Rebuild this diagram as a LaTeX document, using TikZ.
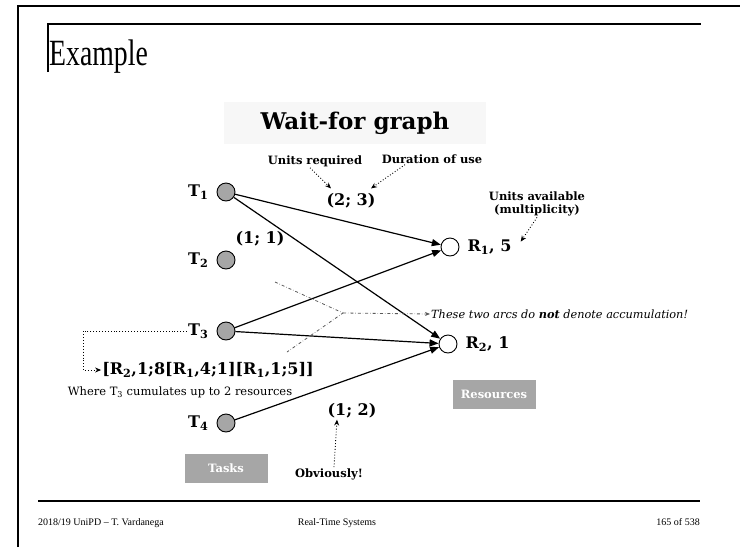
\documentclass[tikz,border=0pt]{standalone}
\usepackage{graphicx}
\usepackage{fontspec}
\setmainfont{DejaVu Serif}
\newfontfamily\slidefont{Liberation Serif}
\usetikzlibrary{arrows.meta, positioning}
\definecolor{taskgray}{HTML}{A6A6A6}
\definecolor{headgray}{HTML}{F7F7F7}
\definecolor{notegray}{HTML}{5A5A5A}

\begin{document}
\begin{tikzpicture}[
    x=1pt, y=-1pt,
    task/.style={circle, draw, fill=taskgray, minimum size=18pt, inner sep=0pt, line width=0.9pt},
    res/.style={circle, draw, fill=white, minimum size=18pt, inner sep=0pt, line width=0.9pt},
    lbl/.style={font=\bfseries\fontsize{16}{18}\selectfont, inner sep=1pt},
    note/.style={font=\bfseries\fontsize{11.5}{13}\selectfont, inner sep=1pt, align=center},
    tag/.style={fill=taskgray, text=white, font=\bfseries\fontsize{11.5}{13}\selectfont, minimum width=83pt, minimum height=29pt},
    arc/.style={-{Triangle[length=9pt, width=7pt]}, line width=1.2pt},
    hint/.style={-{Stealth[length=6pt, width=5pt]}, dotted, line width=0.9pt},
    split/.style={dash dot, draw=notegray, line width=0.8pt},
    foot/.style={font=\slidefont\fontsize{10}{12}\selectfont, anchor=base, inner sep=0pt}
  ]
  \useasboundingbox (0,0) rectangle (740,547);
  % slide frame
  \draw[line width=2pt] (18,547) -- (18,6) -- (740,6);
  \draw[line width=1.5pt] (48,72) -- (48,24) -- (701,24);
  \draw[line width=1.8pt] (38,501) -- (700,501);
  \node[font=\slidefont\fontsize{37}{40}\selectfont, anchor=base west, inner sep=0pt] (title) at (49,65) {\scalebox{0.75}[1]{Example}};
  \node[foot, anchor=base west] (who) at (38,525) {2018/19 UniPD – T. Vardanega};
  \node[foot] (course) at (337,525) {Real-Time Systems};
  \node[foot, anchor=base east] (page) at (700,525) {165 of 538};

  % header
  \node[fill=headgray, minimum width=262pt, minimum height=42pt, font=\bfseries\fontsize{23}{25}\selectfont] (head) at (355,123) {Wait-for graph};

  % tasks and resources
  \node[task] (t1) at (226,192) {};
  \node[task] (t2) at (226,260) {};
  \node[task] (t3) at (226,331) {};
  \node[task] (t4) at (226,423) {};
  \node[res] (r1) at (450,247) {};
  \node[res] (r2) at (448,344) {};
  \node[lbl, left=7pt of t1] (t1lbl) {T\textsubscript{1}};
  \node[lbl, left=7pt of t2] (t2lbl) {T\textsubscript{2}};
  \node[lbl, left=7pt of t3] (t3lbl) {T\textsubscript{3}};
  \node[lbl, left=7pt of t4] (t4lbl) {T\textsubscript{4}};
  \node[lbl, right=7pt of r1] (r1lbl) {R\textsubscript{1}, 5};
  \node[lbl, right=7pt of r2] (r2lbl) {R\textsubscript{2}, 1};

  \draw[arc] (t1) -- (r1);
  \draw[arc] (t1) -- (r2);
  \draw[arc] (t3) -- (r1);
  \draw[arc] (t3) -- (r2);
  \draw[arc] (t4) -- (r2);

  % weights
  \node[lbl] (w1) at (351,201) {(2; 3)};
  \node[lbl] (w2) at (260,239) {(1; 1)};
  \node[lbl] (w4) at (352,411) {(1; 2)};

  % notes
  \node[note] (units) at (315,161) {Units required};
  \node[note] (dur) at (432,159) {Duration of use};
  \node[note] (avail) at (537,204) {Units available\\(multiplicity)};
  \node[note] (obv) at (329,474) {Obviously!};
  \draw[hint] ([xshift=-5pt]units.south) -- ([xshift=-20pt,yshift=4pt]w1.north);
  \draw[hint] ([xshift=-27pt]dur.south) -- ([xshift=20pt,yshift=4pt]w1.north);
  \draw[hint] (avail.south) -- ([xshift=8pt,yshift=-3pt]r1lbl.north east);
  \draw[hint] ([xshift=5pt]obv.north) -- ([xshift=-15pt]w4.south);

  \node[lbl] (cum) at (208,370) {[R\textsubscript{2},1;8[R\textsubscript{1},4;1][R\textsubscript{1},1;5]]};
  \node[font=\fontsize{11.5}{13}\selectfont, inner sep=1pt] (where) at (180,392) {Where T\textsubscript{3} cumulates up to 2 resources};
  \draw[hint] (t3lbl.west) -- ++(-104,0) |- (cum.west);

  % not an accumulation
  \node[font=\itshape\fontsize{11.3}{13}\selectfont, anchor=west, inner sep=1pt] (warn) at (430,314) {These two arcs do \textbf{not} denote accumulation!};
  \coordinate (meet) at (343,313);
  \coordinate (upper) at (275,282);
  \coordinate (lower) at (287,352);
  \draw[split] (upper) -- (meet) -- (lower);
  \draw[split, -{Stealth[length=5pt, width=4pt]}] (meet) -- (warn.west);

  \node[tag] (restag) at (494,394) {Resources};
  \node[tag] (tasktag) at (226,468) {Tasks};
\end{tikzpicture}
\end{document}
